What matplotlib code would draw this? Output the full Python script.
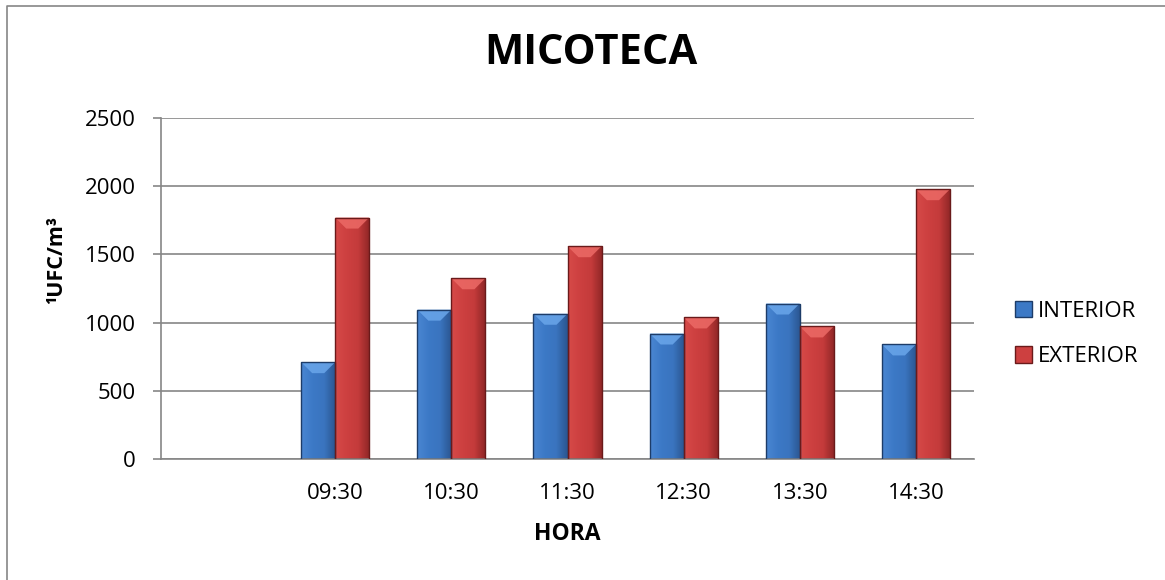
import numpy as np
import matplotlib
matplotlib.use("Agg")
import matplotlib.pyplot as plt
from matplotlib.patches import Polygon, Rectangle
from matplotlib.colors import LinearSegmentedColormap

# datos (la primera categoria esta vacia)
horas = ["", "09:30", "10:30", "11:30", "12:30", "13:30", "14:30"]
interior = [None, 710, 1095, 1065, 920, 1140, 840]
exterior = [None, 1770, 1325, 1560, 1038, 972, 1978]
yticks = [0, 500, 1000, 1500, 2000, 2500]

plt.rcParams["font.family"] = ["Open Sans", "DejaVu Sans"]

W, H = 1165, 580
fig = plt.figure(figsize=(W / 100, H / 100), dpi=100)
fig.patch.set_facecolor("white")
ax = fig.add_axes([161 / W, 1 - 459 / H, 813 / W, 341 / H])

x = np.arange(len(horas))
bw = 0.293
ax.set_xlim(-0.5, len(horas) - 0.5)
ax.set_ylim(0, 2500)

grad_blue = LinearSegmentedColormap.from_list("b", ["#4a86d2", "#3c79c6", "#3a74bf", "#2a558f"])
grad_red = LinearSegmentedColormap.from_list("r", ["#d64a48", "#cd4040", "#c43b3b", "#8e2626"])

def draw_bars(vals, offset, cmap, edge, top):
    xs = [xi + offset for xi, v in zip(x, vals) if v is not None]
    hs = [v for v in vals if v is not None]
    bars = ax.bar(xs, hs, width=bw, color="none", edgecolor=edge, linewidth=1.0, zorder=3)
    return bars, cmap, top

sets = [
    draw_bars(interior, -bw / 2, grad_blue, "#1d3c68", "#6aa6ea"),
    draw_bars(exterior, bw / 2, grad_red, "#6a1a1a", "#ec6a66"),
]

# degradado horizontal y bisel superior de cada barra
fig.canvas.draw()
px_x = ax.transData.transform((1, 0))[0] - ax.transData.transform((0, 0))[0]
px_y = ax.transData.transform((0, 1))[1] - ax.transData.transform((0, 0))[1]
bevel = 11
grad = np.linspace(0, 1, 64).reshape(1, -1)
for bars, cmap, top in sets:
    for b in bars:
        bx, bh, bwid = b.get_x(), b.get_height(), b.get_width()
        im = ax.imshow(grad, cmap=cmap, aspect="auto", extent=(bx, bx + bwid, 0, bh),
                       zorder=2, interpolation="bilinear")
        im.set_clip_path(b)
        dx = bevel / px_x
        dy = bevel / px_y
        ax.add_patch(Polygon([(bx, bh), (bx + bwid, bh), (bx + bwid - dx, bh - dy),
                              (bx + dx, bh - dy)], closed=True, facecolor=top,
                             edgecolor="none", alpha=0.85, zorder=2.5))
ax.set_xlim(-0.5, len(horas) - 0.5)
ax.set_ylim(0, 2500)

ax.set_yticks(yticks)
ax.set_xticks(x)
ax.set_xticklabels(horas)
ax.yaxis.grid(True, color="#868686", linewidth=1.2, zorder=1)
ax.set_axisbelow(True)
for s in ["top", "right"]:
    ax.spines[s].set_visible(False)
for s in ["left", "bottom"]:
    ax.spines[s].set_color("#868686")
    ax.spines[s].set_linewidth(1.2)
ax.tick_params(axis="y", length=6, color="#868686", width=1.2, pad=12, labelsize=16)
ax.tick_params(axis="x", length=0, pad=17, labelsize=16)

fig.text(591 / W, 1 - 53 / H, "MICOTECA", ha="center", va="center",
         fontsize=30, fontweight="bold")
fig.text(567 / W, 1 - 534 / H, "HORA", ha="center", va="center",
         fontsize=16.5, fontweight="bold")
fig.text(57 / W, 1 - 260 / H, "¹UFC/m³", ha="center", va="center",
         rotation=90, fontsize=15.5, fontweight="bold")

handles = [Rectangle((0, 0), 1, 1, facecolor="#3c79c6", edgecolor="#1d3c68"),
           Rectangle((0, 0), 1, 1, facecolor="#cd4040", edgecolor="#6a1a1a")]
fig.legend(handles, ["INTERIOR", "EXTERIOR"], loc="center left",
           bbox_to_anchor=(1015 / W, 1 - 334 / H), frameon=False, fontsize=16,
           handlelength=0.75, handleheight=0.75, handletextpad=0.3, labelspacing=1.1,
           borderaxespad=0, borderpad=0)

# marco del grafico
fig.add_artist(matplotlib.lines.Line2D([7 / W, 7 / W, 1], [0, 1 - 6 / H, 1 - 6 / H],
                                       transform=fig.transFigure, color="#868686", lw=1.2))

fig.savefig("out.png", dpi=100)
